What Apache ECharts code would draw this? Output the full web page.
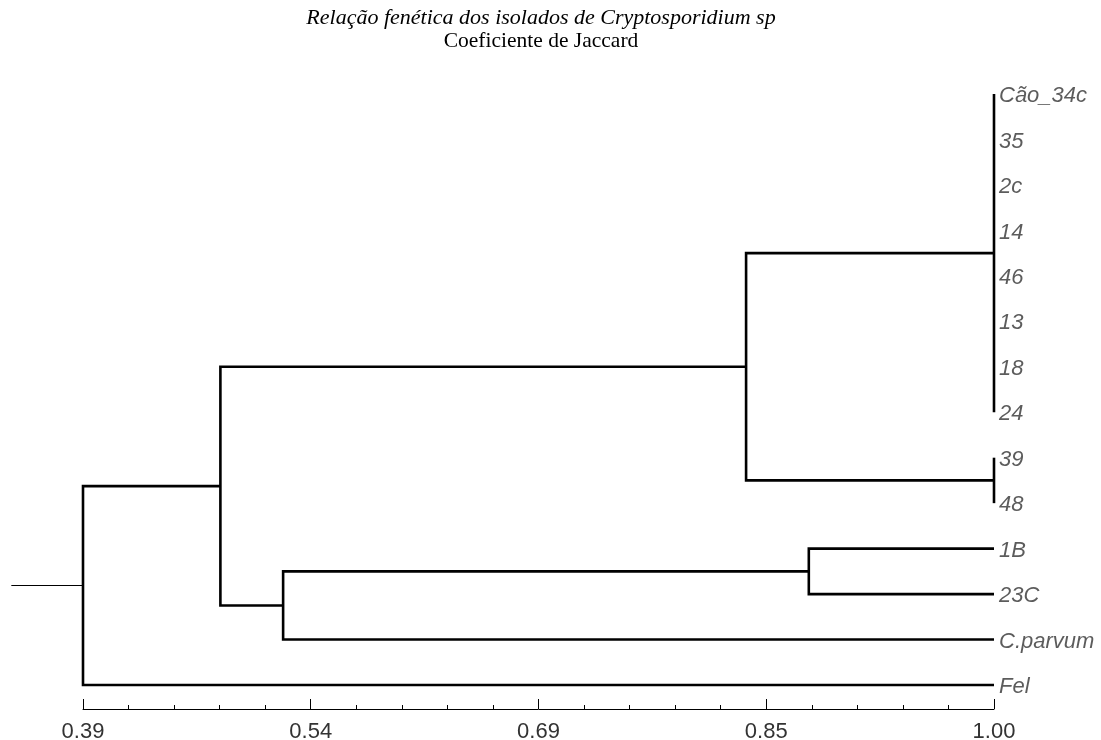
<!DOCTYPE html>
<html>
<head>
<meta charset="utf-8">
<script src="https://cdn.jsdelivr.net/npm/echarts@6/dist/echarts.min.js"></script>
<style>
html,body{margin:0;padding:0;background:#fff;}
#chart{width:1101px;height:740px;}
</style>
</head>
<body>
<div id="chart"></div>
<script>
// ---- data ----
const titleText = 'Relação fenética dos isolados de Cryptosporidium sp';
const subtitleText = 'Coeficiente de Jaccard';
const leaves = ['Cão_34c', '35', '2c', '14', '46', '13', '18', '24', '39', '48', '1B', '23C', 'C.parvum', 'Fel'];
const leafSimilarity = 1.00;
const nodeNames = ['N1', 'N2', 'N3', 'N4', 'N5', 'N6', 'N7'];
const nodeChildren = [
  ['Cão_34c', '35', '2c', '14', '46', '13', '18', '24'],
  ['39', '48'],
  ['N1', 'N2'],
  ['1B', '23C'],
  ['N4', 'C.parvum'],
  ['N3', 'N5'],
  ['N6', 'Fel']
];
const nodeSimilarity = [1.00, 1.00, 0.834, 0.876, 0.524, 0.482, 0.39];
const rootStubSimilarity = 0.342;
const axisMin = 0.39;
const axisMax = 1.00;
const axisStep = 0.1525;
const tickLabels = ['0.39', '0.54', '0.69', '0.85', '1.00'];

// ---- build segments (one bracket polyline per node) ----
const pos = {};
leaves.forEach((name, i) => { pos[name] = { x: leafSimilarity, y: i }; });
const segments = [];
nodeNames.forEach((nm, k) => {
  const sim = nodeSimilarity[k];
  const kids = nodeChildren[k].map(c => pos[c]);
  const first = kids[0], last = kids[kids.length - 1];
  segments.push({ coords: [[first.x, first.y], [sim, first.y], [sim, last.y], [last.x, last.y]] });
  kids.slice(1, -1).forEach(p => {
    if (p.x !== sim) segments.push({ coords: [[p.x, p.y], [sim, p.y]] });
  });
  pos[nm] = { x: sim, y: (first.y + last.y) / 2 };
});
const root = pos[nodeNames[nodeNames.length - 1]];
const rootStub = [{ coords: [[rootStubSimilarity, root.y], [root.x, root.y]] }];

const chart = echarts.init(document.getElementById('chart'), null, { renderer: 'canvas' });
chart.setOption({
  animation: false,
  backgroundColor: '#ffffff',
  title: {
    text: titleText,
    subtext: subtitleText,
    left: 536,
    textAlign: 'center',
    top: 2,
    itemGap: 1,
    textStyle: { fontFamily: 'Liberation Serif', fontStyle: 'italic', fontWeight: 'normal', fontSize: 22, color: '#000' },
    subtextStyle: { fontFamily: 'Liberation Serif', fontStyle: 'normal', fontSize: 21.5, color: '#000' }
  },
  grid: { left: 83, right: 107, top: 94, bottom: 55, containLabel: false, outerBoundsMode: 'none' },
  xAxis: {
    type: 'value',
    position: 'bottom',
    min: axisMin,
    max: axisMax,
    interval: axisStep,
    offset: 24,
    splitLine: { show: false },
    axisLine: { show: true, onZero: false, lineStyle: { color: '#000', width: 1 } },
    axisTick: { show: true, inside: true, length: 10, lineStyle: { color: '#000', width: 1 } },
    minorTick: { show: true, splitNumber: 5, length: 4, lineStyle: { color: '#000', width: 1 } },
    axisLabel: {
      margin: 12,
      showMinLabel: true,
      showMaxLabel: true,
      fontFamily: 'Liberation Sans',
      fontSize: 22,
      color: '#333',
      formatter: function (v) {
        const idx = Math.round((v - axisMin) / axisStep);
        return tickLabels[idx] !== undefined ? tickLabels[idx] : '';
      }
    }
  },
  yAxis: { type: 'value', inverse: true, min: 0, max: leaves.length - 1, show: false },
  series: [
    {
      type: 'lines',
      coordinateSystem: 'cartesian2d',
      polyline: true,
      clip: false,
      silent: true,
      lineStyle: { color: '#000', width: 2.6, opacity: 1, join: 'miter', cap: 'butt' },
      data: segments
    },
    {
      type: 'lines',
      coordinateSystem: 'cartesian2d',
      clip: false,
      silent: true,
      lineStyle: { color: '#000', width: 1, opacity: 1 },
      data: rootStub
    },
    {
      type: 'scatter',
      silent: true,
      symbolSize: 0,
      data: leaves.map((n, i) => [leafSimilarity, i]),
      label: {
        show: true,
        position: 'right',
        distance: 5,
        offset: [0, 2],
        fontFamily: 'Liberation Sans',
        fontStyle: 'italic',
        fontSize: 22,
        color: '#333',
        formatter: p => leaves[p.dataIndex]
      }
    }
  ]
});
</script>
</body>
</html>
